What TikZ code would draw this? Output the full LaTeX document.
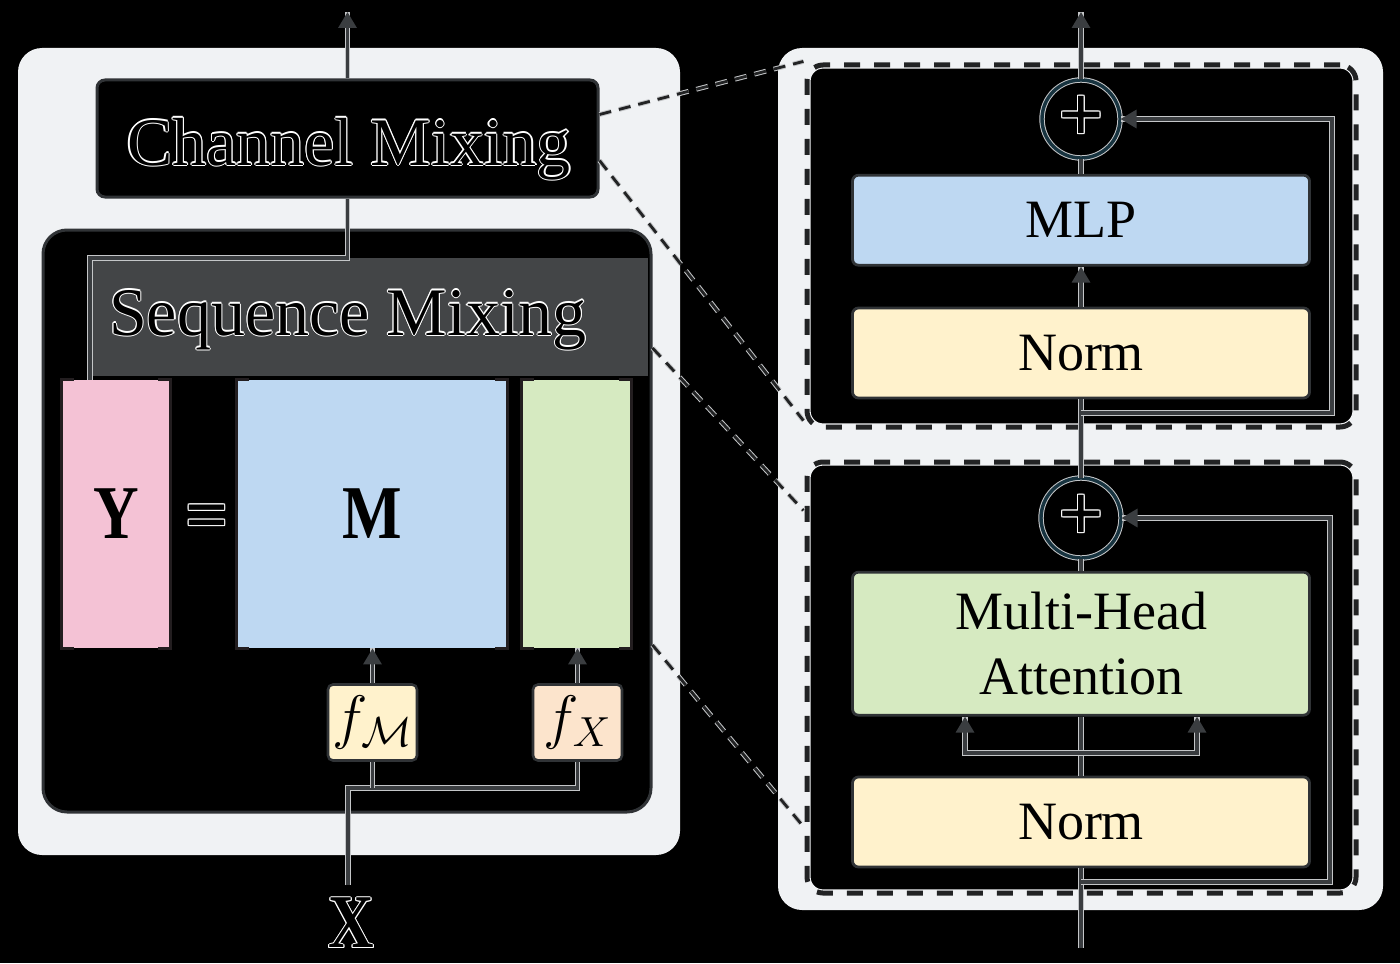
\documentclass[tikz,border=0pt]{standalone}
\usepackage{fix-cm}
\usepackage{fontspec}
\setmainfont{Liberation Serif}
\usepackage{xcolor}
\usepackage{tikz}
\usetikzlibrary{positioning, arrows.meta}

\definecolor{panelgray}{RGB}{240,242,244}
\definecolor{linegray}{RGB}{58,61,64}
\definecolor{halogray}{RGB}{196,198,200}
\definecolor{edgegray}{RGB}{48,51,54}
\definecolor{bandgray}{RGB}{67,69,71}
\definecolor{dashdark}{RGB}{34,35,36}
\definecolor{bracketdark}{RGB}{35,30,32}
\definecolor{addteal}{RGB}{24,52,64}
\definecolor{pinkfill}{RGB}{244,194,213}
\definecolor{bluefill}{RGB}{190,216,242}
\definecolor{greenfill}{RGB}{214,234,193}
\definecolor{yellowfill}{RGB}{255,242,204}
\definecolor{peachfill}{RGB}{252,228,204}

% black letters with a thin white rim
\newbox\halobox
\newcommand\halotext[1]{\setbox\halobox\hbox{#1}%
  \rlap{\color{white}\kern0.55pt\copy\halobox}%
  \rlap{\color{white}\kern-0.55pt\copy\halobox}%
  \rlap{\color{white}\raise0.55pt\copy\halobox}%
  \rlap{\color{white}\lower0.55pt\copy\halobox}%
  \rlap{\color{white}\kern0.4pt\raise0.4pt\copy\halobox}%
  \rlap{\color{white}\kern-0.4pt\raise0.4pt\copy\halobox}%
  \rlap{\color{white}\kern0.4pt\lower0.4pt\copy\halobox}%
  \rlap{\color{white}\kern-0.4pt\lower0.4pt\copy\halobox}%
  \copy\halobox}
\newcommand\narrow[1]{\scalebox{0.83}[1]{#1}}

\begin{document}
\begin{tikzpicture}[x=0.5pt, y=-0.5pt]
    \tikzstyle{conn} = [draw=linegray, line width=1.6pt, preaction={draw=halogray, line width=2.6pt, -}]
    \tikzstyle{arr} = [conn, -{Triangle[length=8pt, width=9pt]}]
    \tikzstyle{panel} = [fill=panelgray, rounded corners=12pt]
    \tikzstyle{outline} = [draw=edgegray, line width=1.5pt, fill=black, inner sep=0pt]
    \tikzstyle{title} = [font=\fontsize{34}{36}\selectfont, inner sep=0pt]
    \tikzstyle{bold} = [font=\fontsize{38}{40}\selectfont\bfseries, inner sep=0pt]
    \tikzstyle{bar} = [bold, minimum height=134pt]
    \tikzstyle{bracket} = [draw=bracketdark, line width=1.6pt]
    \tikzstyle{fbox} = [draw=edgegray, line width=1.3pt, rounded corners=2.5pt, minimum width=44.5pt, minimum height=38pt, inner sep=0pt, font=\fontsize{30}{32}\selectfont]
    \tikzstyle{block} = [draw=edgegray, line width=1.4pt, rounded corners=3pt, minimum width=228.5pt, minimum height=45pt, inner sep=0pt, font=\fontsize{27}{32.5}\selectfont, align=center]
    \tikzstyle{addcirc} = [circle, draw=halogray, line width=0.5pt, double=addteal, double distance=1.7pt, fill=black, inner sep=0pt, minimum size=39pt, font=\fontsize{40}{42}\selectfont\bfseries]
    \tikzstyle{dashbox} = [fill=black, draw=panelgray, line width=3.6pt, rounded corners=8pt, inner sep=0pt, postaction={draw=dashdark, line width=2.5pt, dash pattern=on 8pt off 7pt}]
    \tikzstyle{zoomline} = [draw=dashdark, line width=1.4pt, dash pattern=on 6pt off 4pt, preaction={draw=halogray, line width=2.4pt, dash pattern=on 6pt off 4pt}]

    \useasboundingbox (0,0) rectangle (1400,963);
    \fill[black] (0,0) rectangle (1400,963);

    % left: the mixer
    \fill[panel] (18,48) rectangle (680,855);
    \node[outline, rounded corners=4pt, minimum width=250.5pt, minimum height=58.5pt] (CM) at (347.5,138.5) {};
    \node[title, anchor=base] (CMt) at (349,165) {\halotext{Channel Mixing}};
    \node[outline, rounded corners=12pt, minimum width=304pt, minimum height=291pt] (SM) at (347,521) {};
    \fill[bandgray] (90,258) rectangle (648,376);
    \node[title, anchor=base] (SMt) at (348,335) {\halotext{Sequence Mixing}};

    \node[bar, fill=pinkfill, minimum width=54pt] (Y) at (116,514) {\narrow{Y}};
    \node[bar, fill=bluefill, minimum width=135pt] (M) at (372,514) {\narrow{M}};
    \node[bar, fill=greenfill, minimum width=54.5pt] (Xb) at (576.5,514) {};
    \foreach \b in {Y, M, Xb} {
        \draw[bracket] ([xshift=6pt]\b.north west) -- (\b.north west) -- (\b.south west) -- ([xshift=6pt]\b.south west);
        \draw[bracket] ([xshift=-6pt]\b.north east) -- (\b.north east) -- (\b.south east) -- ([xshift=-6pt]\b.south east);
    }
    \node[bold] (eq) at (207,523) {\halotext{=}};

    \node[fbox, fill=yellowfill] (fM) at (372.5,722.5) {$f_{\mathcal{M}}$};
    \node[fbox, fill=peachfill] (fX) at (577.5,722.5) {$f_{X}$};
    \draw[arr] (fM.north) -- (fM.north |- M.south);
    \draw[arr] (fX.north) -- (fX.north |- Xb.south);

    \node[bold] (Xin) at (351,923) {\halotext{\narrow{X}}};
    \coordinate (xtop) at (348,885);
    \coordinate (split) at (348,788);
    \draw[conn] (xtop) -- (split) -| (fX.south);
    \draw[conn] (fM.south) -- (fM.south |- split);

    \coordinate (out1) at (349,12);
    \coordinate (tap) at (90,258);
    \draw[arr] (CM.north) -- (CM.north |- out1);
    \draw[conn] (CM.south) |- (tap) -- (tap |- Y.north);

    % right: transformer block
    \fill[panel] (778,48) rectangle (1383,910);
    \node[dashbox, minimum width=274.5pt, minimum height=181pt] (B1) at (1081.5,246) {};
    \node[dashbox, minimum width=274.5pt, minimum height=215.5pt] (B2) at (1081.5,677.5) {};

    \node[block, fill=yellowfill] (N2) at (1081,822) {Norm};
    \node[block, fill=greenfill, minimum height=71.5pt, above=29.5pt of N2] (MHA) {Multi-Head\\Attention};
    \node[addcirc, minimum size=40pt] (A2) at (1081,518) {\halotext{+}};
    \node[block, fill=yellowfill] (N1) at (1081,353) {Norm};
    \node[block, fill=bluefill, above=20pt of N1] (MLP) {MLP};
    \node[addcirc] (A1) at (1081,119) {\halotext{+}};

    \coordinate (in2) at (1081,948);
    \coordinate (out2) at (1081,12);
    \draw[conn] (in2) -- (N2.south);
    \draw[conn] (N2.north) -- (MHA.south);
    \draw[conn] (MHA.north) -- (A2.south);
    \draw[conn] (A2.north) -- (N1.south);
    \draw[arr] (N1.north) -- (MLP.south);
    \draw[conn] (MLP.north) -- (A1.south);
    \draw[arr] (A1.north) -- (out2);

    \coordinate (r2) at (1081,882);
    \coordinate (r2c) at (1330,882);
    \draw[arr] (r2) -- (r2c) |- (A2.east);
    \coordinate (r1) at (1081,413);
    \coordinate (r1c) at (1332,413);
    \draw[arr] (r1) -- (r1c) |- (A1.east);

    \coordinate (s2) at (1081,753);
    \coordinate (q) at (965,753);
    \coordinate (k) at (1197,753);
    \foreach \c in {q, k}
        \draw[arr] (s2) -- (\c) -- (\c |- MHA.south);

    % zoom-in lines
    \draw[zoomline] ([yshift=12pt]CM.east) -- (B1.north west);
    \draw[zoomline] ([yshift=-11pt]CM.east) -- ([yshift=5pt]B1.south west);
    \draw[zoomline] ([yshift=86.5pt]SM.east) -- ([yshift=-26pt]B2.north west);
    \draw[zoomline] ([yshift=-62pt]SM.east) -- ([yshift=35pt]B2.south west);
\end{tikzpicture}
\end{document}
